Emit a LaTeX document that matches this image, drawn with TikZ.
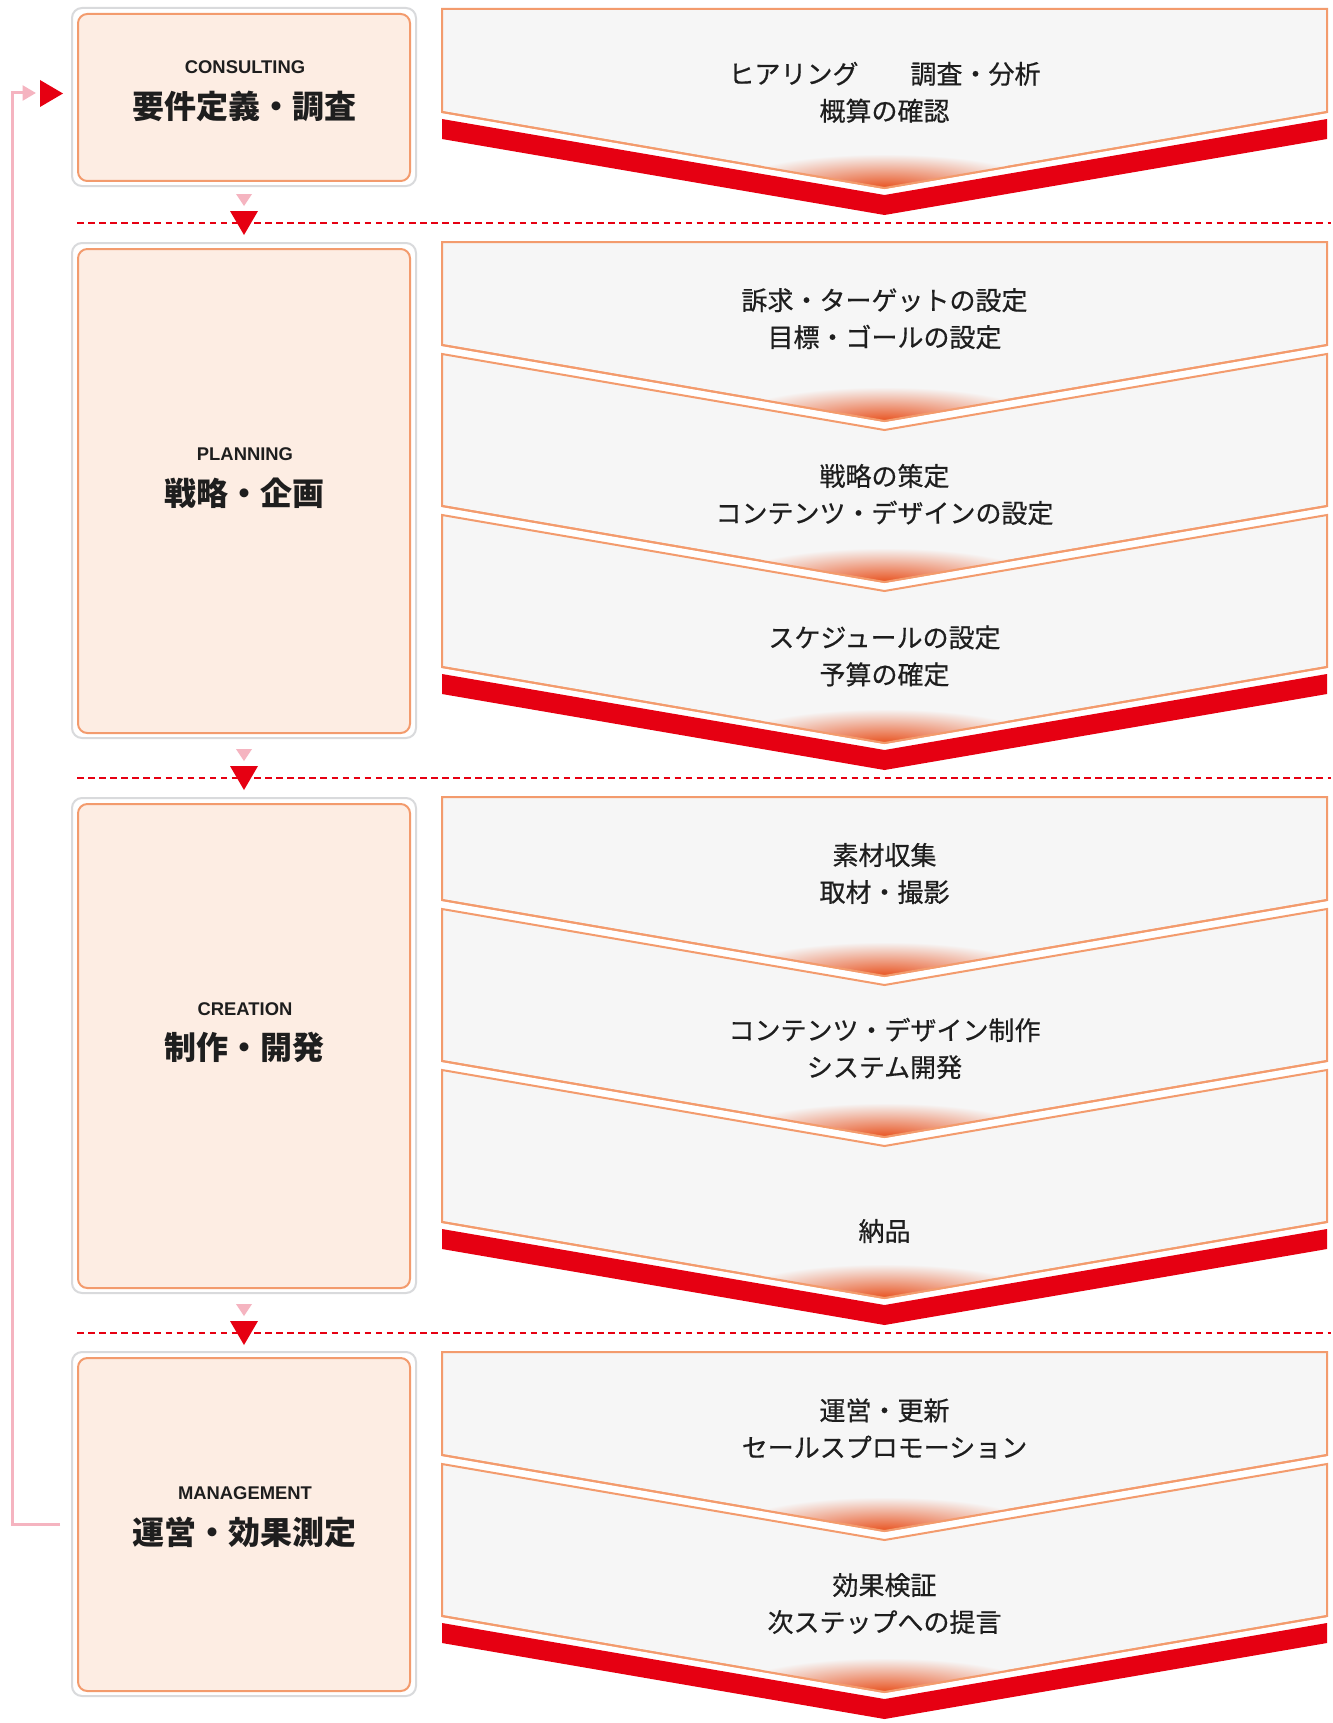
\documentclass[tikz,border=0pt]{standalone}
\usepackage{fontspec}
\setmainfont{Liberation Sans}
\newfontfamily\jp{Noto Sans CJK JP}
\newfontfamily\jpm{Noto Sans CJK JP}[FakeBold=0.5]
\usetikzlibrary{arrows.meta}
\definecolor{cred}{HTML}{E60012}
\definecolor{corange}{HTML}{F39B6D}
\definecolor{cpeach}{HTML}{FDEDE3}
\definecolor{cpanel}{HTML}{F6F6F6}
\definecolor{cgrey}{HTML}{D9DADC}
\definecolor{cpink}{HTML}{F5B4C0}
\definecolor{ctip}{HTML}{E8521F}
\definecolor{ctext}{HTML}{1E1E1E}
\newcommand\tipshade[1]{%
  \begin{scope}
    \clip (442,#1) -- (884.5,#1+76) -- (1327,#1) -- cycle;
    \shade[inner color=ctip, outer color=cpanel] (884.5,#1+76) ellipse [x radius=160, y radius=34];
  \end{scope}
  \draw[panelline] (442,#1) -- (884.5,#1+76) -- (1327,#1);}
\newcommand\panelfirst[2]{%
  \filldraw[panelshape] (442,#1) -- (1327,#1) -- (1327,#2) -- (884.5,#2+76) -- (442,#2) -- cycle;
  \tipshade{#2}}
\newcommand\panelnext[2]{%
  \filldraw[panelshape] (442,#1) -- (884.5,#1+76) -- (1327,#1) -- (1327,#2) -- (884.5,#2+76) -- (442,#2) -- cycle;
  \tipshade{#2}}
\newcommand\redband[1]{%
  \fill[cred] (442,#1+7) -- (884.5,#1+83) -- (1327,#1+7) -- (1327,#1+27) -- (884.5,#1+103) -- (442,#1+27) -- cycle;}
\newcommand\stepmarks[1]{%
  \draw[sepline] (77,#1) -- (1331,#1);
  \fill[cpink] (236,#1-29) -- (252,#1-29) -- (244,#1-17) -- cycle;
  \fill[cred] (230,#1-12) -- (258,#1-12) -- (244,#1+12) -- cycle;}
\begin{document}
\begin{tikzpicture}[x=0.75pt,y=-0.75pt,
  panelshape/.style={fill=cpanel, draw=corange, line width=1.5pt},
  panelline/.style={draw=corange, line width=1.5pt},
  ptext/.style={font=\jpm\fontsize{19.5pt}{27.75pt}\selectfont, text=ctext, align=center, inner sep=0pt},
  entext/.style={font=\bfseries\fontsize{13.8pt}{16pt}\selectfont, text=ctext, inner sep=0pt},
  jptext/.style={font=\jp\bfseries\fontsize{24pt}{28pt}\selectfont, text=ctext, inner sep=0pt},
  outerbox/.style={draw=cgrey, line width=1.5pt, fill=white, rounded corners=7.5pt, inner sep=0pt, outer sep=0pt},
  innerbox/.style={draw=corange, line width=1.5pt, fill=cpeach, rounded corners=7pt, inner sep=0pt, outer sep=0pt},
  sepline/.style={draw=cred, line width=2pt, dash pattern=on 4.9pt off 3.4pt},
  fb/.style={draw=cpink, line width=2.25pt},
]
\useasboundingbox (0,0) rectangle (1333,1723);
\fill[white] (0,0) rectangle (1333,1723);

% ---------- left boxes ----------
\node[outerbox, minimum width=344*0.75pt, minimum height=178*0.75pt] (o1) at (244,97) {};
\node[innerbox, minimum width=332*0.75pt, minimum height=167*0.75pt] (b1) at (244,97.5) {};
\node[outerbox, minimum width=344*0.75pt, minimum height=495*0.75pt] (o2) at (244,490.5) {};
\node[innerbox, minimum width=332*0.75pt, minimum height=484*0.75pt] (b2) at (244,491) {};
\node[outerbox, minimum width=344*0.75pt, minimum height=495*0.75pt] (o3) at (244,1045.5) {};
\node[innerbox, minimum width=332*0.75pt, minimum height=484*0.75pt] (b3) at (244,1046) {};
\node[outerbox, minimum width=344*0.75pt, minimum height=344*0.75pt] (o4) at (244,1524) {};
\node[innerbox, minimum width=332*0.75pt, minimum height=333*0.75pt] (b4) at (244,1524.5) {};

\node[entext] (e1) at (245,67) {CONSULTING};
\node[jptext] (j1) at (244,106) {要件定義・調査};
\node[entext] (e2) at (245,454) {PLANNING};
\node[jptext] (j2) at (244,493) {戦略・企画};
\node[entext] (e3) at (245,1009) {CREATION};
\node[jptext] (j3) at (244,1047) {制作・開発};
\node[entext] (e4) at (245,1493) {MANAGEMENT};
\node[jptext] (j4) at (244,1532) {運営・効果測定};

% ---------- separators ----------
\stepmarks{223}
\stepmarks{778}
\stepmarks{1333}

% ---------- feedback loop ----------
\coordinate (fbstart) at (60,1524);
\coordinate (fbx) at (12,0);
\coordinate (fbend) at (36,93);
\draw[fb, -{Triangle[length=10pt, width=11pt]}] (fbstart) -- (fbstart -| fbx) -- (fbend -| fbx) -- (fbend);
\fill[cred] (40,80) -- (63,93.5) -- (40,107) -- cycle;

% ---------- group 1 ----------
\panelfirst{9}{112}
\redband{112}
\node[ptext] (t1) at (884.5,92.3) {ヒアリング　　調査・分析\\概算の確認};

% ---------- group 2 ----------
\panelfirst{242}{345}
\panelnext{354}{506}
\panelnext{515}{667}
\redband{667}
\node[ptext] (t2) at (884.5,318.7) {訴求・ターゲットの設定\\目標・ゴールの設定};
\node[ptext] (t3) at (884.5,494.5) {戦略の策定\\コンテンツ・デザインの設定};
\node[ptext] (t4) at (884.5,656) {スケジュールの設定\\予算の確定};

% ---------- group 3 ----------
\panelfirst{797}{900}
\panelnext{909}{1061}
\panelnext{1070}{1222}
\redband{1222}
\node[ptext] (t5) at (884.5,873.5) {素材収集\\取材・撮影};
\node[ptext] (t6) at (884.5,1048.5) {コンテンツ・デザイン制作\\システム開発};
\node[ptext] (t7) at (884.5,1231) {納品};

% ---------- group 4 ----------
\panelfirst{1352}{1455}
\panelnext{1464}{1616}
\redband{1616}
\node[ptext] (t8) at (884.5,1428.5) {運営・更新\\セールスプロモーション};
\node[ptext] (t9) at (884.5,1603.5) {効果検証\\次ステップへの提言};
\end{tikzpicture}
\end{document}
